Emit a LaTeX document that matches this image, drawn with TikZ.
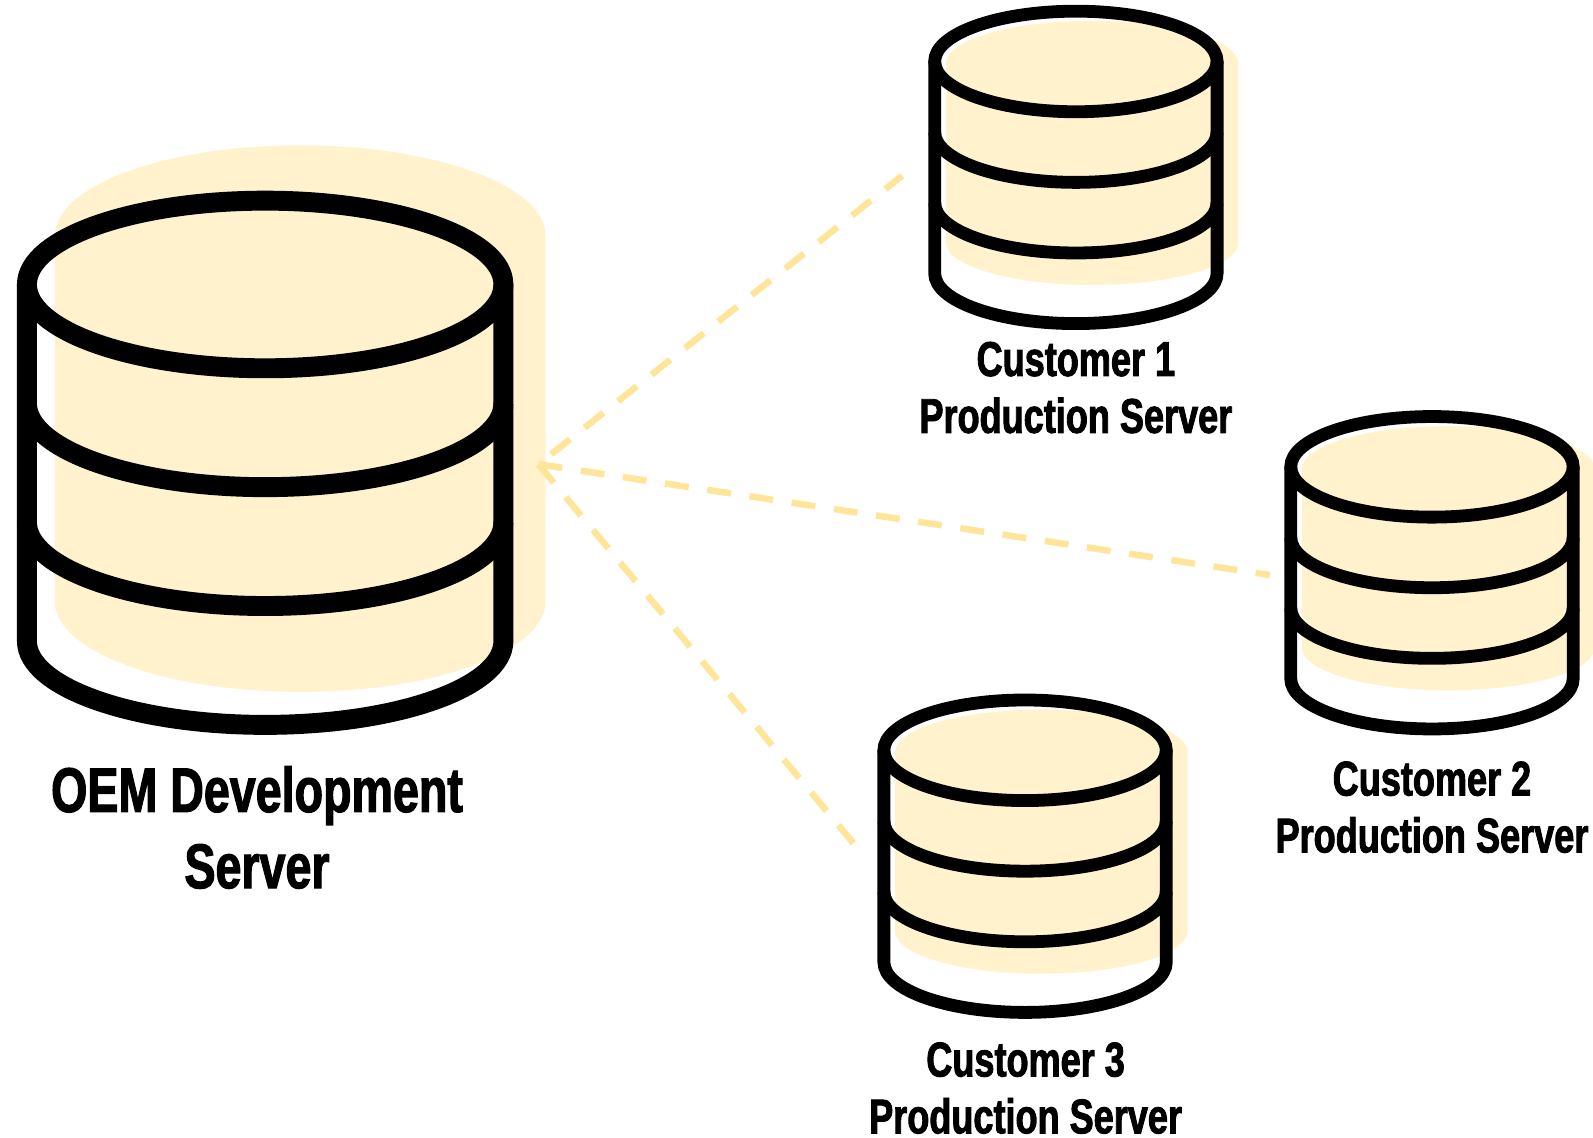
\documentclass[tikz,border=0pt]{standalone}
\usepackage{fontspec}
\newfontfamily\servfont[FakeStretch=0.74,FakeBold=1.8]{Liberation Sans Bold}
\usetikzlibrary{positioning}

\definecolor{shadowyellow}{HTML}{FFF2CC}
\definecolor{linkyellow}{HTML}{FFE599}

% cx, top y, bottom y, rx, ry
\newcommand{\dbshadow}[5]{
	\fill[shadowyellow] (#1-#4,#2) arc (180:360:#4 and #5) -- (#1+#4,#3) arc (0:180:#4 and #5) -- cycle;
}
% cx, y of top ellipse, rx, ry, distance between the rings, line width
\newcommand{\dbcylinder}[6]{
	\draw[line width=#6] (#1,#2) ellipse (#3 and #4);
	\draw[line width=#6] (#1-#3,#2) -- (#1-#3,#2+3*#5) arc (180:0:#3 and #4) -- (#1+#3,#2);
	\foreach \ring in {1,2}
		\draw[line width=#6] (#1-#3,#2+\ring*#5) arc (180:0:#3 and #4);
}

\begin{document}
\begin{tikzpicture}[x=0.5pt,y=-0.5pt,
						link/.style={linkyellow,line width=3.2pt,dash pattern=on 11.8pt off 9.2pt},
						smalllabel/.style={font=\servfont\fontsize{24}{28}\selectfont,align=center,inner sep=0pt},
						biglabel/.style={font=\servfont\fontsize{31}{37.5}\selectfont,align=center,inner sep=0pt}]
		\useasboundingbox (0,0) rectangle (1568,1120);

		\dbshadow{295.5}{232}{592}{241.5}{89}
		\dbshadow{1075}{62.5}{238.5}{144}{42}
		\dbshadow{1425.5}{461.5}{637.5}{144}{42}
		\dbshadow{1025}{740.5}{916.5}{144}{42}

		\coordinate (devend)	at (530,457);
		\coordinate (cust1end)	at (888,173);
		\coordinate (cust2end)	at (1250,566);
		\coordinate (cust3end)	at (840,830);

		\draw[link,dash phase=34pt] (devend) -- (cust1end);
		\draw[link] (devend) -- (cust2end);
		\draw[link] (devend) -- (cust3end);

		\dbcylinder{261}{280}{234.5}{82.5}{117}{9.8pt}
		\dbcylinder{1059}{60.5}{139}{49.5}{69.5}{6.3pt}
		\dbcylinder{1409.5}{459.5}{139}{49.5}{69.5}{6.3pt}
		\dbcylinder{1009}{738.5}{139}{49.5}{69.5}{6.3pt}

		\node[biglabel]		(devlabel)		at (253,814.5)	{OEM Development\\Server};
		\node[smalllabel]	(cust1label)	at (1059,381.5)	{Customer 1\\Production Server};
		\node[smalllabel]	(cust2label)	at (1409.5,794.5)	{Customer 2\\Production Server};
		\node[smalllabel]	(cust3label)	at (1009.5,1071)	{Customer 3\\Production Server};
	\end{tikzpicture}
\end{document}
